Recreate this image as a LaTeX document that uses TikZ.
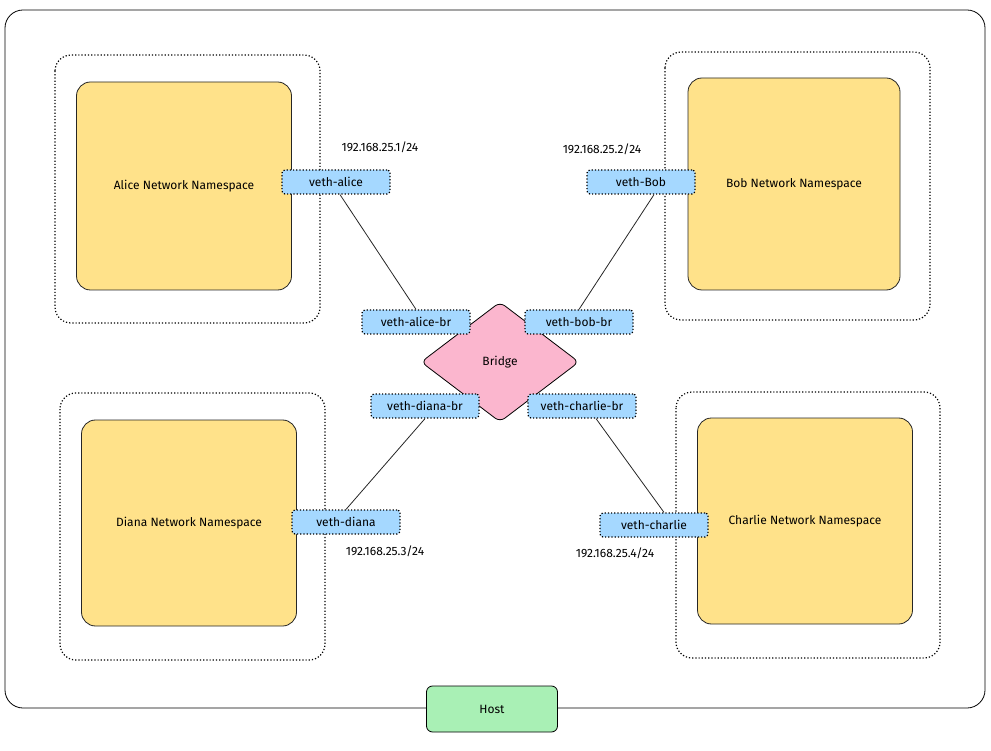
\documentclass[tikz,border=0pt]{standalone}
\usepackage{fontspec}
\setmainfont{Fira Sans}
\usetikzlibrary{shapes.geometric,calc}
\definecolor{nsyellow}{HTML}{FFE28A}
\definecolor{vethblue}{HTML}{A5D8FF}
\definecolor{bridgepink}{HTML}{FBB6CE}
\definecolor{hostgreen}{HTML}{A9F0B5}
\begin{document}
\begin{tikzpicture}[x=1pt,y=-1pt,font=\fontsize{12}{14}\selectfont,
	ns/.style={draw=black!85,fill=nsyellow,rounded corners=14pt,thick,minimum width=215pt,minimum height=208pt},
	outer/.style={draw,dotted,line width=1.2pt,rounded corners=16pt},
	veth/.style={draw,dotted,line width=1.2pt,fill=vethblue,rounded corners=3pt,minimum width=108pt,minimum height=24pt,inner sep=1pt},
	link/.style={draw,black!85,thick}]

		\useasboundingbox (0,0) rectangle (991,751);

		\draw [thick,rounded corners=18pt] (5,10) rectangle (985,708);

		% namespaces
		\draw [outer] (55,55) rectangle (320,323);
		\draw [outer] (665,52) rectangle (930,320);
		\draw [outer] (60,393) rectangle (325,660);
		\draw [outer] (676,392) rectangle (940,658);

		\node [ns] (Alice) at (184,186) {Alice Network Namespace};
		\node [ns,minimum width=212pt,minimum height=212pt] (Bob) at (794,184) {Bob Network Namespace};
		\node [ns,minimum height=206pt] (Diana) at (189,523) {Diana Network Namespace};
		\node [ns,minimum height=206pt] (Charlie) at (805,521) {Charlie Network Namespace};

		\node [diamond,draw,thick,fill=bridgepink,rounded corners=6pt,minimum width=158pt,minimum height=120pt,inner sep=0pt] (Br) at (500,362) {Bridge};

		% veth pairs
		\node [veth] (VA) at (336,182) {veth-alice};
		\node [veth] (VB) at (641,182) {veth-Bob};
		\node [veth] (VD) at (346,522) {veth-diana};
		\node [veth] (VC) at (654,525) {veth-charlie};

		\node [veth] (VAB) at (416,322) {veth-alice-br};
		\node [veth] (VBB) at (579,322) {veth-bob-br};
		\node [veth] (VDB) at (425,406) {veth-diana-br};
		\node [veth] (VCB) at (582,406) {veth-charlie-br};

		\draw [link] ($(VA.south)+(4,0)$) -- (VAB.north);
		\draw [link] ($(VB.south)+(13,0)$) -- (VBB.north);
		\draw [link] (VDB.south) -- (VD.north);
		\draw [link] ($(VCB.south)+(14,0)$) -- ($(VC.north)+(10,0)$);

		% addresses
		\node (IPA) at (380,147) {192.168.25.1/24};
		\node (IPB) at (602,149) {192.168.25.2/24};
		\node (IPD) at (385,551) {192.168.25.3/24};
		\node (IPC) at (615,553) {192.168.25.4/24};

		\node [draw,thick,fill=hostgreen,rounded corners=6pt,minimum width=131pt,minimum height=46pt] (Host) at (492,709) {Host};

\end{tikzpicture}
\end{document}
